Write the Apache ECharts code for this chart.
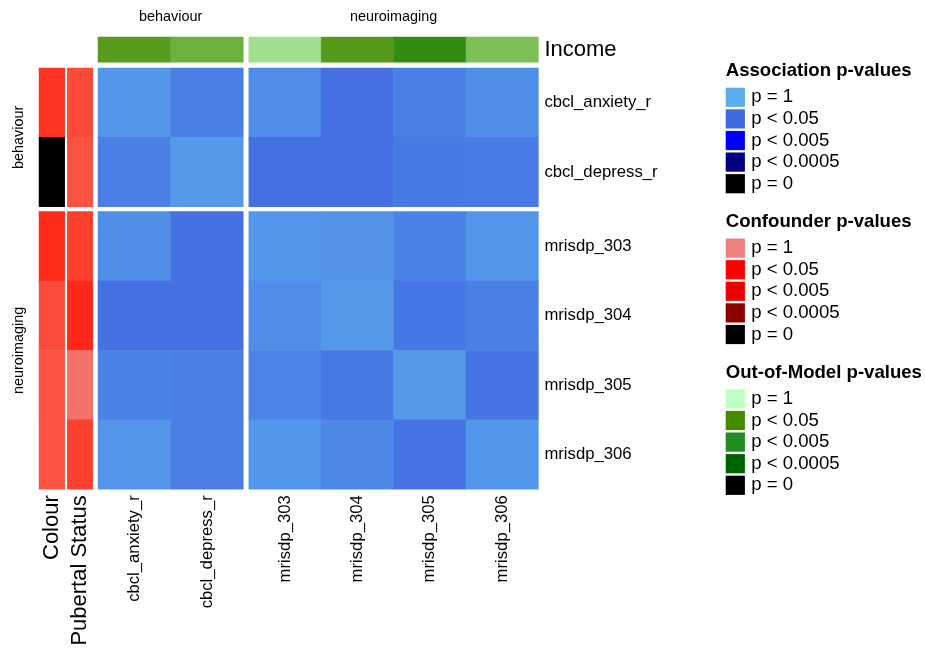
<!DOCTYPE html>
<html><head><meta charset="utf-8">
<script src="https://cdn.jsdelivr.net/npm/echarts@6/dist/echarts.min.js"></script>
<style>html,body{margin:0;padding:0;background:#fff}#c{width:925px;height:649px}</style>
</head><body><div id="c"></div>
<script>
// ---------------- data ----------------
const groupNames = ['behaviour', 'neuroimaging'];
const behaviourVars = ['cbcl_anxiety_r', 'cbcl_depress_r'];
const neuroVars = ['mrisdp_303', 'mrisdp_304', 'mrisdp_305', 'mrisdp_306'];
const rowVars = behaviourVars.concat(neuroVars);
const colVars = behaviourVars.concat(neuroVars);
// association p-values, rows = rowVars, cols = colVars
const associationP = [
  [0.70, 0.38, 0.56, 0.15, 0.36, 0.59],
  [0.38, 0.73, 0.15, 0.15, 0.29, 0.31],
  [0.59, 0.18, 0.70, 0.65, 0.40, 0.70],
  [0.15, 0.15, 0.56, 0.73, 0.25, 0.36],
  [0.40, 0.38, 0.42, 0.26, 0.73, 0.22],
  [0.67, 0.35, 0.70, 0.49, 0.19, 0.70]
];
// confounder p-values (rows)
const confounderNames = ['Colour', 'Pubertal Status'];
const colourP = [0.23, 0, 0.18, 0.43, 0.48, 0.50];
const pubertalP = [0.39, 0.48, 0.32, 0.16, 0.81, 0.33];
// out-of-model p-values (columns)
const outOfModelName = 'Income';
const incomeP = [0.19, 0.35, 0.75, 0.17, 0.026, 0.48];
// legends
const legendTitles = ['Association p-values', 'Confounder p-values', 'Out-of-Model p-values'];
const legendLabels = ['p = 1', 'p < 0.05', 'p < 0.005', 'p < 0.0005', 'p = 0'];
const pBreaks = [1, 0.05, 0.005, 0.0005, 0];
const assocColors = ['#5CACEE', '#4169E1', '#0000FF', '#000080', '#000000'];
const confColors = ['#F08080', '#FF0000', '#EE0000', '#8B0000', '#000000'];
const oomColors = ['#C1FFC1', '#458B00', '#228B22', '#006400', '#000000'];

// p-value -> position on the break scale (0..4), linear between breaks
function breakIndex(p) {
  for (let i = 0; i < pBreaks.length - 1; i++) {
    const a = pBreaks[i], b = pBreaks[i + 1];
    if (p <= a && p >= b) return i + (a - p) / (a - b);
  }
  return 4;
}

// colour ramp stops interpolated in CIE-LAB between the break colours
function hexToRgb(h) { return [1, 3, 5].map(i => parseInt(h.substr(i, 2), 16)); }
function toLin(c) { c /= 255; return c <= 0.04045 ? c / 12.92 : Math.pow((c + 0.055) / 1.055, 2.4); }
function fromLin(c) { const v = c <= 0.0031308 ? 12.92 * c : 1.055 * Math.pow(c, 1 / 2.4) - 0.055; return Math.max(0, Math.min(255, Math.round(v * 255))); }
function rgbToLab(rgb) {
  const [r, g, b] = rgb.map(toLin);
  const X = (0.4124 * r + 0.3576 * g + 0.1805 * b) / 0.95047;
  const Y = 0.2126 * r + 0.7152 * g + 0.0722 * b;
  const Z = (0.0193 * r + 0.1192 * g + 0.9505 * b) / 1.08883;
  const f = t => t > 0.008856 ? Math.cbrt(t) : 7.787 * t + 16 / 116;
  const fx = f(X), fy = f(Y), fz = f(Z);
  return [116 * fy - 16, 500 * (fx - fy), 200 * (fy - fz)];
}
function labToRgb(lab) {
  const fy = (lab[0] + 16) / 116, fx = fy + lab[1] / 500, fz = fy - lab[2] / 200;
  const fi = t => t > 0.206893 ? t * t * t : (t - 16 / 116) / 7.787;
  const X = fi(fx) * 0.95047, Y = fi(fy), Z = fi(fz) * 1.08883;
  const r = 3.2406 * X - 1.5372 * Y - 0.4986 * Z;
  const g = -0.9689 * X + 1.8758 * Y + 0.0415 * Z;
  const b = 0.0557 * X - 0.2040 * Y + 1.0570 * Z;
  return 'rgb(' + [r, g, b].map(fromLin).join(',') + ')';
}
function labRamp(colors, sub) {
  const labs = colors.map(c => rgbToLab(hexToRgb(c)));
  const out = [];
  for (let i = 0; i < labs.length - 1; i++) {
    for (let s = 0; s < sub; s++) {
      const t = s / sub;
      out.push(labToRgb(labs[i].map((v, k) => v + (labs[i + 1][k] - v) * t)));
    }
  }
  out.push(labToRgb(labs[labs.length - 1]));
  return out;
}

// ---------------- layout ----------------
const FONT = 'Liberation Sans, Arial, Helvetica, sans-serif';
const L1 = 98, W1 = 145.3, L2 = 248.8, W2 = 289.6;
const T1 = 68, H1 = 138.7, T2 = 211.6, H2 = 277.6;
const incT = 37, incH = 25.3;
const colL = 39, colW = 25.7, pubL = 67.3, pubW = 25.4;
const rowFs = 16.7, annFs = 22, titleFs = 14.4, legFs = 18.6;

const grids = [], xAxes = [], yAxes = [], series = [];
function hiddenAxis(data, extra) {
  return Object.assign({
    type: 'category', data: data,
    axisLine: { show: false }, axisTick: { show: false },
    splitLine: { show: false }, axisLabel: { show: false }
  }, extra || {});
}
function addPanel(box, xData, yData, xLab, yLab, cells) {
  const gi = grids.length;
  grids.push(Object.assign({ containLabel: false }, box));
  xAxes.push(hiddenAxis(xData, xLab ? {
    gridIndex: gi, position: 'bottom',
    axisLabel: { show: true, rotate: 90, margin: 6, interval: 0, color: '#000', fontSize: xLab, fontFamily: FONT }
  } : { gridIndex: gi }));
  yAxes.push(hiddenAxis(yData, yLab ? {
    gridIndex: gi, inverse: true, position: 'right',
    axisLabel: { show: true, margin: 6, interval: 0, color: '#000', fontSize: yLab, fontFamily: FONT }
  } : { gridIndex: gi, inverse: true }));
  series.push({
    type: 'heatmap', xAxisIndex: gi, yAxisIndex: gi, data: cells,
    emphasis: { disabled: true }, progressive: 0, animation: false
  });
  return series.length - 1;
}
function blockCells(r0, r1, c0, c1) {
  const out = [];
  for (let r = r0; r < r1; r++)
    for (let c = c0; c < c1; c++)
      out.push([c - c0, r - r0, breakIndex(associationP[r][c]), associationP[r][c]]);
  return out;
}
function annCells(arr, r0, r1) {
  const out = [];
  for (let r = r0; r < r1; r++) out.push([0, r - r0, breakIndex(arr[r]), arr[r]]);
  return out;
}
function incCells(c0, c1) {
  const out = [];
  for (let c = c0; c < c1; c++) out.push([c - c0, 0, breakIndex(incomeP[c]), incomeP[c]]);
  return out;
}
const nb = behaviourVars.length, nt = rowVars.length;
const assocSeries = [
  addPanel({ left: L1, top: T1, width: W1, height: H1 }, behaviourVars, behaviourVars, 0, 0, blockCells(0, nb, 0, nb)),
  addPanel({ left: L2, top: T1, width: W2, height: H1 }, neuroVars, behaviourVars, 0, rowFs, blockCells(0, nb, nb, nt)),
  addPanel({ left: L1, top: T2, width: W1, height: H2 }, behaviourVars, neuroVars, rowFs, 0, blockCells(nb, nt, 0, nb)),
  addPanel({ left: L2, top: T2, width: W2, height: H2 }, neuroVars, neuroVars, rowFs, rowFs, blockCells(nb, nt, nb, nt))
];
const oomSeries = [
  addPanel({ left: L1, top: incT, width: W1, height: incH }, behaviourVars, [outOfModelName], 0, 0, incCells(0, nb)),
  addPanel({ left: L2, top: incT, width: W2, height: incH }, neuroVars, [outOfModelName], 0, annFs, incCells(nb, nt))
];
const confSeries = [
  addPanel({ left: colL, top: T1, width: colW, height: H1 }, [confounderNames[0]], behaviourVars, 0, 0, annCells(colourP, 0, nb)),
  addPanel({ left: pubL, top: T1, width: pubW, height: H1 }, [confounderNames[1]], behaviourVars, 0, 0, annCells(pubertalP, 0, nb)),
  addPanel({ left: colL, top: T2, width: colW, height: H2 }, [confounderNames[0]], neuroVars, annFs, 0, annCells(colourP, nb, nt)),
  addPanel({ left: pubL, top: T2, width: pubW, height: H2 }, [confounderNames[1]], neuroVars, annFs, 0, annCells(pubertalP, nb, nt))
];

function vm(idx, colors) {
  return { type: 'continuous', show: false, min: 0, max: 4, dimension: 2, seriesIndex: idx, inRange: { color: colors } };
}

// ---------------- text & legends ----------------
const graphic = [];
graphic.push({ type: 'text', x: L1 + W1 / 2, y: 17.5, style: { text: groupNames[0], fontSize: titleFs, fontFamily: FONT, fill: '#000', align: 'center', verticalAlign: 'middle' } });
graphic.push({ type: 'text', x: L2 + W2 / 2, y: 17.5, style: { text: groupNames[1], fontSize: titleFs, fontFamily: FONT, fill: '#000', align: 'center', verticalAlign: 'middle' } });
graphic.push({ type: 'text', x: 19, y: T1 + H1 / 2, rotation: Math.PI / 2, style: { text: groupNames[0], fontSize: titleFs, fontFamily: FONT, fill: '#000', align: 'center', verticalAlign: 'middle' } });
graphic.push({ type: 'text', x: 19, y: T2 + H2 / 2, rotation: Math.PI / 2, style: { text: groupNames[1], fontSize: titleFs, fontFamily: FONT, fill: '#000', align: 'center', verticalAlign: 'middle' } });

const legendTops = [87.7, 238.5, 389.3];
const legendColors = [assocColors, confColors, oomColors];
const LX = 725.7, SW = 19.2, STEP = 21.6;
legendTitles.forEach((t, k) => {
  const top = legendTops[k];
  graphic.push({ type: 'text', x: LX, y: top - 16.8, style: { text: t, fontSize: legFs, fontWeight: 'bold', fontFamily: FONT, fill: '#000', align: 'left', verticalAlign: 'middle' } });
  legendLabels.forEach((lab, i) => {
    graphic.push({ type: 'rect', shape: { x: LX, y: top + i * STEP, width: SW, height: SW }, style: { fill: legendColors[k][i] } });
    graphic.push({ type: 'text', x: LX + 25.5, y: top + i * STEP + SW / 2, style: { text: lab, fontSize: legFs, fontFamily: FONT, fill: '#000', align: 'left', verticalAlign: 'middle' } });
  });
});

const chart = echarts.init(document.getElementById('c'), null, { renderer: 'canvas' });
chart.setOption({
  backgroundColor: '#fff',
  animation: false,
  grid: grids, xAxis: xAxes, yAxis: yAxes, series: series,
  visualMap: [vm(assocSeries, assocColors), vm(confSeries, labRamp(confColors, 20)), vm(oomSeries, oomColors)],
  graphic: graphic
});
</script></body></html>
